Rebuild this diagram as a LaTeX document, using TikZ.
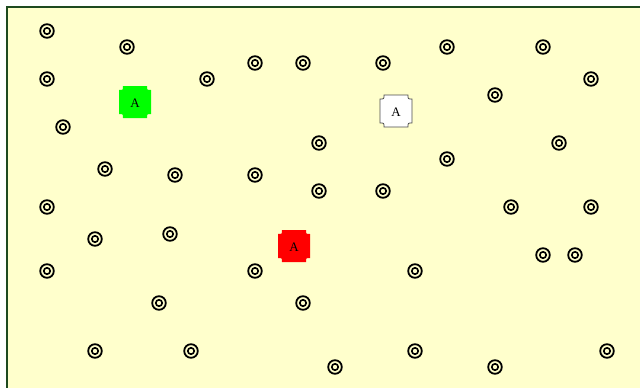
\documentclass[tikz,border=0pt]{standalone}
\usepackage{fontspec}
\setmainfont{Liberation Serif}
\usetikzlibrary{calc}
\definecolor{bgy}{HTML}{FFFFCC}
\definecolor{frame}{HTML}{1E4A1E}
\tikzset{
  x=1pt,y=-1pt,
  lbl/.style={inner sep=0pt, font=\fontsize{13}{15}\selectfont},
}
\newcommand{\ringat}[2]{\draw[line width=1.8pt] (#1,#2) circle (6.8pt); \draw[line width=1.6pt] (#1,#2) circle (3.2pt);}
% concave-corner box: name, x, y, style
\newcommand{\notchbox}[4]{%
  \path[#4] ($(#2,#3)+(-12,-16)$) -- ($(#2,#3)+(12,-16)$)
    .. controls ($(#2,#3)+(12,-12)$) .. ($(#2,#3)+(16,-12)$) -- ($(#2,#3)+(16,12)$)
    .. controls ($(#2,#3)+(12,12)$) .. ($(#2,#3)+(12,16)$) -- ($(#2,#3)+(-12,16)$)
    .. controls ($(#2,#3)+(-12,12)$) .. ($(#2,#3)+(-16,12)$) -- ($(#2,#3)+(-16,-12)$)
    .. controls ($(#2,#3)+(-12,-12)$) .. cycle;
  \node[lbl] (#1) at (#2,#3+1) {A};}
\begin{document}
\begin{tikzpicture}
\useasboundingbox (0,0) rectangle (640,388);
\fill[bgy] (7,7) rectangle (640,388);
\draw[frame,line width=2pt] (7,388) -- (7,7) -- (640,7);
\foreach \x/\y in {47/31,127/47,255/63,303/63,383/63,447/47,543/47,47/79,207/79,591/79,495/95,63/127,319/143,559/143,447/159,105/169,175/175,255/175,319/191,383/191,47/207,511/207,591/207,95/239,170/234,543/255,575/255,47/271,255/271,415/271,159/303,303/303,95/351,191/351,415/351,335/367,495/367,607/351}{\ringat{\x}{\y}}
\notchbox{g}{135}{102}{fill=green}
\notchbox{w}{396}{111}{fill=white, draw=gray!60!black, line width=0.8pt}
\notchbox{r}{294}{246}{fill=red}
\end{tikzpicture}
\end{document}
